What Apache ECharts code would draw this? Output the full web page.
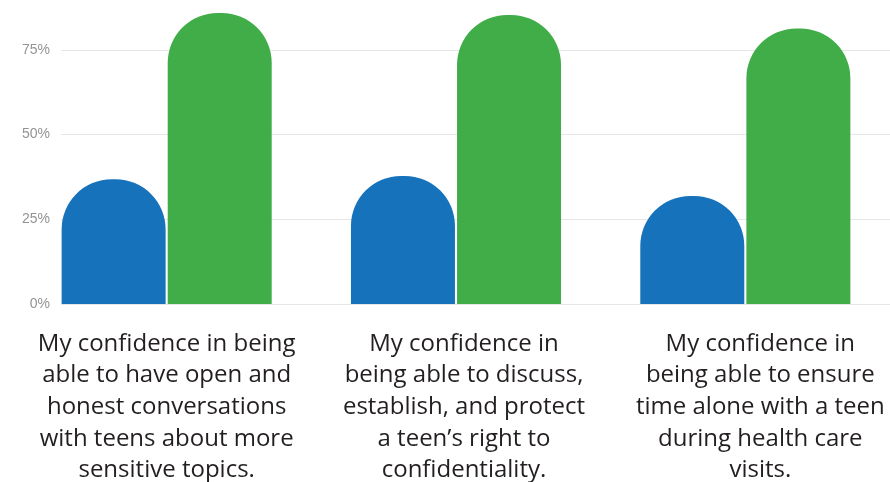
<!DOCTYPE html>
<html>
<head>
    <meta charset="utf-8">
    <title>Confidence</title>
    <script src="https://cdn.jsdelivr.net/npm/echarts@6/dist/echarts.min.js"></script>
    <style>
        html, body { margin: 0; padding: 0; background: #fff; }
        #main { width: 890px; height: 482px; }
    </style>
</head>
<body>
<div id="main"></div>
<script type="text/javascript">
    // data
    var categories = [
        'My confidence in being\nable to have open and\nhonest conversations\nwith teens about more\nsensitive topics.',
        'My confidence in\nbeing able to discuss,\nestablish, and protect\na teen\u2019s right to\nconfidentiality.',
        'My confidence in\nbeing able to ensure\ntime alone with a teen\nduring health care\nvisits.'
    ];
    var beforeValues = [36.8, 37.8, 31.9];
    var afterValues = [85.9, 85.3, 81.3];
    var yTickLabels = ['0%', '25%', '50%', '75%'];

    // the text blocks under groups 2 and 3 sit a bit right of the bars
    var labelShift = [0, 16, 30];

    var myChart = echarts.init(document.getElementById('main'));

    var yMax = 89.7; // top edge of the picture

    var option = {
        animation: false,
        grid: [
            // grid for the horizontal lines and % labels
            {left: 61, right: 0, top: 0, bottom: 178, outerBoundsMode: 'none'},
            // grid for the bars
            {left: 22, right: 0, top: 0, bottom: 178, outerBoundsMode: 'none'}
        ],
        xAxis: [
            {gridIndex: 0, type: 'value', show: false, min: 0, max: 1},
            {
                gridIndex: 1,
                type: 'category',
                data: categories.map(function (c, i) {
                    return {value: c, textStyle: {padding: [0, 0, 0, labelShift[i]]}};
                }),
                axisLine: {show: false},
                axisTick: {show: false},
                axisLabel: {
                    interval: 0,
                    margin: 24,
                    color: '#231f20',
                    fontFamily: 'Open Sans',
                    fontSize: 24,
                    lineHeight: 31.7,
                    align: 'center'
                }
            }
        ],
        yAxis: [
            {
                gridIndex: 0,
                type: 'value',
                min: 0,
                max: yMax,
                interval: 25,
                axisLine: {show: false},
                axisTick: {show: false},
                splitLine: {showMaxLine: false, lineStyle: {color: '#e6e6e6', width: 1}},
                axisLabel: {
                    showMaxLabel: false,
                    margin: 11,
                    color: '#939393',
                    fontFamily: 'Liberation Sans',
                    fontSize: 14,
                    formatter: function (v) {
                        return yTickLabels[Math.round(v / 25)] || '';
                    }
                }
            },
            {gridIndex: 1, type: 'value', min: 0, max: yMax, show: false}
        ],
        series: [
            {
                name: 'Before',
                type: 'bar',
                xAxisIndex: 1,
                yAxisIndex: 1,
                data: beforeValues,
                barWidth: 104,
                barGap: '2%',
                itemStyle: {color: '#1672bb', borderRadius: [50, 50, 0, 0]}
            },
            {
                name: 'After',
                type: 'bar',
                xAxisIndex: 1,
                yAxisIndex: 1,
                data: afterValues,
                barWidth: 104,
                itemStyle: {color: '#41ad49', borderRadius: [50, 50, 0, 0]}
            }
        ]
    };

    myChart.setOption(option);
</script>
</body>
</html>
